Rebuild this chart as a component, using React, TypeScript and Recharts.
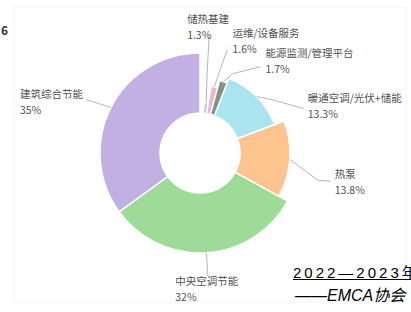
import { PieChart, Pie, Cell } from 'recharts'

// Market share by business type (%), read clockwise from 12 o'clock.
const categories = ['储热基建', '运维/设备服务', '能源监测/管理平台', '暖通空调/光伏+储能', '热泵', '中央空调节能', '建筑综合节能']
const shares = [1.3, 1.6, 1.7, 13.3, 13.8, 32, 35]

const COLORS = ['#b9c5f2', '#f2b4cf', '#7f9482', '#a9e4ef', '#fdc48f', '#9edb99', '#c2b0e2']
// rose-like look: every slice has its own outer radius
const OUTER = [50, 68, 75, 80, 90, 100, 100]

// leader line elbows + label anchor, relative to the slice's outer arc midpoint
const LABEL_SPECS: { line: [number, number][]; text: [number, number] }[] = [
  { line: [[1, -30], [3, -67]], text: [-19, -85] },
  { line: [[6, -18], [13, -37]], text: [18, -54] },
  { line: [[9, -8], [37, -15]], text: [42, -29] },
  { line: [[15, 3], [47, 12]], text: [51, 1] },
  { line: [[28, 21], [41, 22]], text: [45, 14] },
  { line: [[1, 12], [1, 23]], text: [-31, 28] },
  { line: [[-12, -4], [-25, -8]], text: [-91, -14] },
]

const CX = 200
const CY = 153
const RAD = Math.PI / 180
const FONT = '"Noto Sans CJK SC", "Noto Sans", sans-serif'

const rows = categories.map((name, i) => ({ name, value: shares[i] }))

function makeLabel(i: number) {
  return (p: any) => {
    if (p.index !== i) return null
    const spec = LABEL_SPECS[i]
    const sx = p.cx + p.outerRadius * Math.cos(-p.midAngle * RAD)
    const sy = p.cy + p.outerRadius * Math.sin(-p.midAngle * RAD)
    const pts = [[sx, sy], ...spec.line.map(([dx, dy]) => [sx + dx, sy + dy])]
    const tx = sx + spec.text[0]
    const ty = sy + spec.text[1]
    return (
      <g>
        <polyline points={pts.map((q) => q.join(',')).join(' ')} fill="none" stroke="#b5b5b5" strokeWidth={1} />
        <text x={tx} y={ty} fontSize={10.5} fill="#505050" fontFamily={FONT} dominantBaseline="central">
          {categories[i]}
        </text>
        <text x={tx} y={ty + 16} fontSize={10.5} fill="#505050" fontFamily={FONT} dominantBaseline="central">
          {`${shares[i]}%`}
        </text>
      </g>
    )
  }
}

export default function App() {
  return (
    <div style={{ position: 'absolute', left: 0, top: 0, width: 411, height: 312, overflow: 'hidden', background: '#fff' }}>
      <PieChart width={411} height={312} margin={{ top: 0, right: 0, bottom: 0, left: 0 }}>
        <rect x={14} y={7} width={392} height={295} fill="none" stroke="#f3f3f3" />
        <text x={1} y={35} fontSize={12} fontWeight="bold" fill="#333" fontFamily={FONT}>
          6
        </text>
        {categories.map((_, i) => (
          <Pie
            key={i}
            data={rows}
            dataKey="value"
            nameKey="name"
            cx={CX}
            cy={CY}
            innerRadius={40}
            outerRadius={OUTER[i]}
            startAngle={85.3}
            endAngle={-270}
            label={makeLabel(i)}
            labelLine={false}
            isAnimationActive={false}
          >
            {rows.map((_, j) => (
              <Cell
                key={j}
                fill={j === i ? COLORS[i] : 'transparent'}
                stroke={j === i ? '#fff' : 'none'}
                strokeWidth={1.5}
              />
            ))}
          </Pie>
        ))}
      </PieChart>
      <div
        style={{
          position: 'absolute',
          left: 293,
          top: 264,
          fontSize: 15,
          letterSpacing: 3,
          fontFamily: '"Liberation Sans", "Noto Sans CJK SC", sans-serif',
          textDecoration: 'underline',
          whiteSpace: 'nowrap',
          lineHeight: '18px',
          color: '#000',
        }}
      >
        2022—2023年
      </div>
      <div
        style={{
          position: 'absolute',
          left: 295,
          top: 286,
          fontSize: 16,
          fontStyle: 'italic',
          fontFamily: '"Liberation Sans", "Noto Sans CJK SC", sans-serif',
          whiteSpace: 'nowrap',
          lineHeight: '19px',
          color: '#000',
        }}
      >
        ——EMCA协会
      </div>
    </div>
  )
}
